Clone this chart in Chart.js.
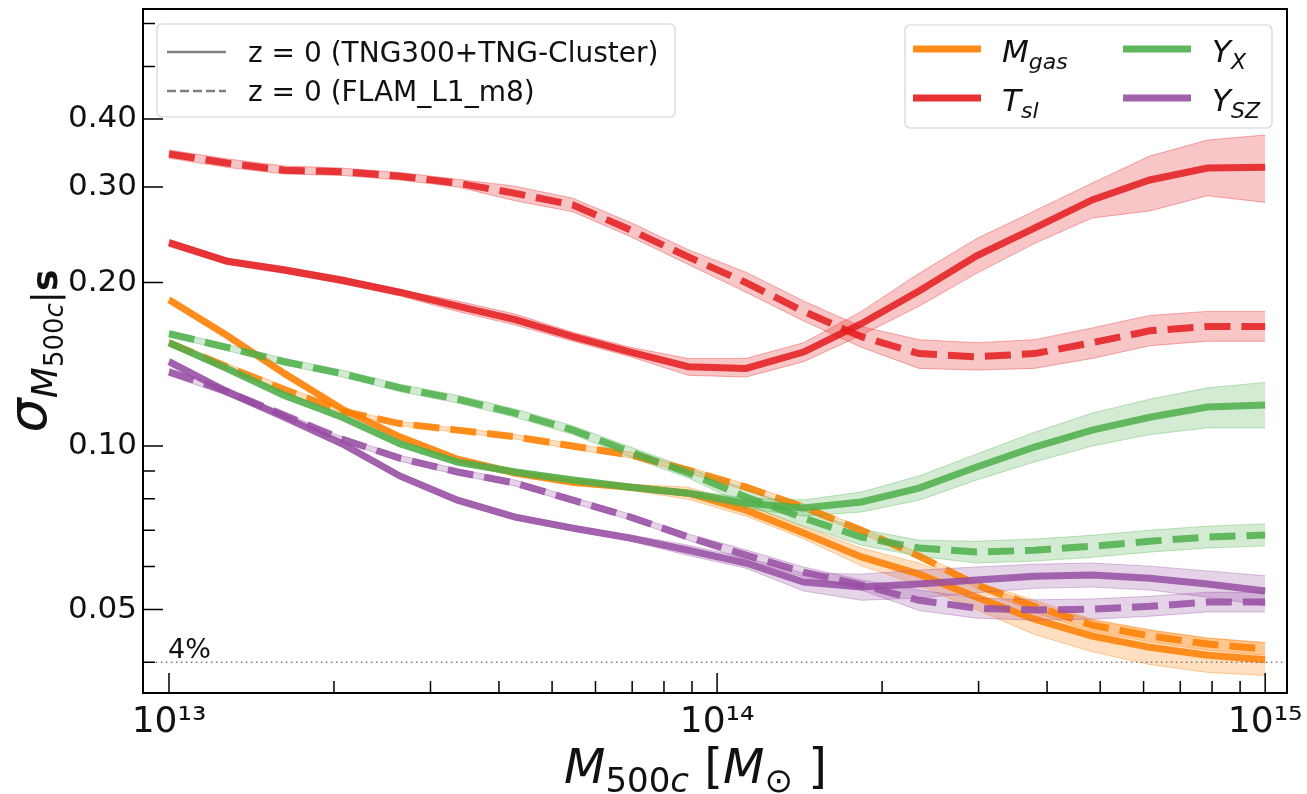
<!DOCTYPE html>
<html>
<head>
<meta charset="utf-8">
<script src="https://cdn.jsdelivr.net/npm/chart.js@4.4.1/dist/chart.umd.min.js"></script>
<style>
  html, body { margin: 0; padding: 0; background: #fff; }
  #wrap { width: 1307px; height: 794px; }
</style>
</head>
<body>
<div id="wrap"><canvas id="grafic" width="1307" height="794"></canvas></div>
<script>
// ---------------------------------------------------------
// Dades (llegides de la figura)
// ---------------------------------------------------------
const masses = [1.000e13, 1.274e13, 1.624e13, 2.069e13, 2.637e13, 3.360e13, 4.281e13, 5.456e13, 6.952e13, 8.859e13,
                1.129e14, 1.438e14, 1.833e14, 2.336e14, 2.976e14, 3.793e14, 4.833e14, 6.158e14, 7.848e14, 1.000e15];

// M_gas
const mgasTng   = [0.186, 0.160, 0.136, 0.117, 0.104, 0.0946, 0.0892, 0.0858, 0.0840, 0.0819, 0.0762, 0.0692, 0.0625, 0.0581, 0.0527, 0.0480, 0.0447, 0.0426, 0.0412, 0.0404];
const mgasTngLo = [0.184, 0.158, 0.134, 0.116, 0.103, 0.0934, 0.0881, 0.0847, 0.0829, 0.0798, 0.0743, 0.0675, 0.0602, 0.0554, 0.0499, 0.0450, 0.0418, 0.0396, 0.0383, 0.0378];
const mgasTngHi = [0.188, 0.162, 0.138, 0.118, 0.105, 0.0958, 0.0903, 0.0869, 0.0851, 0.0840, 0.0782, 0.0710, 0.0649, 0.0609, 0.0557, 0.0512, 0.0478, 0.0458, 0.0443, 0.0435];
const mgasFlam   = [0.155, 0.140, 0.127, 0.116, 0.110, 0.107, 0.104, 0.100, 0.0963, 0.0903, 0.0840, 0.0772, 0.0700, 0.0627, 0.0555, 0.0507, 0.0468, 0.0447, 0.0432, 0.0423];
const mgasFlamLo = [0.153, 0.138, 0.125, 0.115, 0.109, 0.106, 0.103, 0.0987, 0.0951, 0.0892, 0.0829, 0.0762, 0.0691, 0.0619, 0.0548, 0.0494, 0.0456, 0.0436, 0.0421, 0.0412];
const mgasFlamHi = [0.157, 0.142, 0.129, 0.117, 0.111, 0.108, 0.105, 0.101, 0.0975, 0.0915, 0.0851, 0.0782, 0.0709, 0.0635, 0.0562, 0.0520, 0.0480, 0.0459, 0.0443, 0.0434];

// T_sl
const tslTng   = [0.237, 0.219, 0.211, 0.202, 0.192, 0.181, 0.171, 0.159, 0.149, 0.140, 0.139, 0.149, 0.168, 0.193, 0.224, 0.252, 0.284, 0.309, 0.325, 0.326];
const tslTngLo = [0.233, 0.216, 0.208, 0.199, 0.189, 0.177, 0.167, 0.156, 0.146, 0.135, 0.134, 0.143, 0.160, 0.181, 0.208, 0.236, 0.263, 0.271, 0.289, 0.281];
const tslTngHi = [0.240, 0.222, 0.214, 0.205, 0.194, 0.185, 0.175, 0.162, 0.152, 0.145, 0.145, 0.155, 0.177, 0.208, 0.241, 0.271, 0.305, 0.342, 0.366, 0.374];
const tslFlam   = [0.345, 0.332, 0.322, 0.320, 0.314, 0.305, 0.292, 0.278, 0.250, 0.223, 0.200, 0.177, 0.159, 0.148, 0.146, 0.148, 0.155, 0.163, 0.166, 0.166];
const tslFlamLo = [0.339, 0.326, 0.317, 0.315, 0.309, 0.300, 0.283, 0.270, 0.243, 0.216, 0.192, 0.170, 0.152, 0.139, 0.138, 0.139, 0.145, 0.153, 0.156, 0.156];
const tslFlamHi = [0.351, 0.338, 0.328, 0.325, 0.319, 0.310, 0.301, 0.286, 0.258, 0.230, 0.209, 0.185, 0.166, 0.157, 0.155, 0.157, 0.165, 0.174, 0.177, 0.177];

// Y_X
const yxTng   = [0.155, 0.139, 0.124, 0.113, 0.101, 0.0934, 0.0896, 0.0866, 0.0840, 0.0819, 0.0785, 0.0769, 0.0789, 0.0837, 0.0915, 0.0996, 0.107, 0.113, 0.118, 0.119];
const yxTngLo = [0.153, 0.137, 0.122, 0.112, 0.0997, 0.0922, 0.0885, 0.0855, 0.0829, 0.0809, 0.0768, 0.0743, 0.0756, 0.0795, 0.0866, 0.0935, 0.100, 0.105, 0.108, 0.108];
const yxTngHi = [0.157, 0.141, 0.126, 0.114, 0.102, 0.0946, 0.0907, 0.0877, 0.0851, 0.0830, 0.0802, 0.0796, 0.0823, 0.0881, 0.0967, 0.106, 0.115, 0.122, 0.128, 0.131];
const yxFlam   = [0.161, 0.152, 0.143, 0.136, 0.128, 0.122, 0.115, 0.107, 0.0975, 0.0892, 0.0806, 0.0737, 0.0680, 0.0649, 0.0638, 0.0643, 0.0654, 0.0668, 0.0680, 0.0686];
const yxFlamLo = [0.159, 0.150, 0.141, 0.134, 0.126, 0.120, 0.113, 0.105, 0.0954, 0.0873, 0.0779, 0.0712, 0.0657, 0.0627, 0.0609, 0.0614, 0.0624, 0.0638, 0.0649, 0.0655];
const yxFlamHi = [0.163, 0.154, 0.145, 0.138, 0.130, 0.124, 0.117, 0.109, 0.0996, 0.0911, 0.0834, 0.0762, 0.0703, 0.0671, 0.0668, 0.0674, 0.0685, 0.0700, 0.0712, 0.0719];

// Y_SZ
const yszTng   = [0.143, 0.126, 0.113, 0.101, 0.0881, 0.0795, 0.0740, 0.0706, 0.0677, 0.0643, 0.0609, 0.0562, 0.0550, 0.0557, 0.0567, 0.0576, 0.0579, 0.0571, 0.0557, 0.0541];
const yszTngLo = [0.141, 0.124, 0.112, 0.0997, 0.0870, 0.0785, 0.0731, 0.0697, 0.0668, 0.0629, 0.0596, 0.0541, 0.0520, 0.0525, 0.0537, 0.0547, 0.0550, 0.0543, 0.0527, 0.0508];
const yszTngHi = [0.145, 0.128, 0.114, 0.102, 0.0892, 0.0805, 0.0749, 0.0715, 0.0686, 0.0657, 0.0622, 0.0584, 0.0581, 0.0591, 0.0599, 0.0606, 0.0609, 0.0601, 0.0589, 0.0577];
const yszFlam   = [0.137, 0.126, 0.114, 0.103, 0.0950, 0.0896, 0.0855, 0.0795, 0.0740, 0.0680, 0.0630, 0.0586, 0.0555, 0.0520, 0.0503, 0.0499, 0.0501, 0.0507, 0.0516, 0.0516];
const yszFlamLo = [0.135, 0.124, 0.113, 0.102, 0.0938, 0.0885, 0.0844, 0.0785, 0.0731, 0.0671, 0.0617, 0.0574, 0.0543, 0.0498, 0.0482, 0.0478, 0.0480, 0.0486, 0.0495, 0.0495];
const yszFlamHi = [0.139, 0.128, 0.115, 0.104, 0.0962, 0.0907, 0.0866, 0.0805, 0.0749, 0.0689, 0.0644, 0.0599, 0.0567, 0.0543, 0.0525, 0.0521, 0.0523, 0.0529, 0.0538, 0.0538];

// llindar del 4%
const llindar = 0.04;

// Eixos
const xTicks = [1e13, 1e14, 1e15];
const xTickLabels = ['10¹³', '10¹⁴', '10¹⁵'];
const xMinorTicks = [2e13, 3e13, 4e13, 5e13, 6e13, 7e13, 8e13, 9e13, 2e14, 3e14, 4e14, 5e14, 6e14, 7e14, 8e14, 9e14];
const yTicks = [0.05, 0.1, 0.2, 0.3, 0.4];
const yTickLabels = ['0.05', '0.10', '0.20', '0.30', '0.40'];
const yMinorTicks = [0.04, 0.06, 0.07, 0.08, 0.09, 0.5, 0.6];

// ---------------------------------------------------------
// Estils
// ---------------------------------------------------------
const COLORS = {
    mgas: [255, 127, 0],
    tsl:  [228, 26, 28],
    yx:   [77, 175, 74],
    ysz:  [152, 78, 163]
};
const rgba = (c, a) => `rgba(${c[0]}, ${c[1]}, ${c[2]}, ${a})`;
const FONT = "'DejaVu Sans', sans-serif";

const punts = arr => masses.map((m, i) => ({ x: m, y: arr[i] }));

let datasets = [];
function afegirCorba(mid, lo, hi, color, discontinua) {
    datasets.push({
        data: punts(hi), borderColor: rgba(color, 0.35), borderWidth: 1,
        backgroundColor: rgba(color, 0.25), fill: '+1', pointRadius: 0, tension: 0
    });
    datasets.push({
        data: punts(lo), borderColor: rgba(color, 0.35), borderWidth: 1,
        fill: false, pointRadius: 0, tension: 0
    });
    datasets.push({
        data: punts(mid), borderColor: rgba(color, 0.85), borderWidth: 7,
        borderDash: discontinua ? [26, 11] : [], fill: false, pointRadius: 0, tension: 0
    });
}

afegirCorba(mgasTng, mgasTngLo, mgasTngHi, COLORS.mgas, false);
afegirCorba(mgasFlam, mgasFlamLo, mgasFlamHi, COLORS.mgas, true);
afegirCorba(tslTng, tslTngLo, tslTngHi, COLORS.tsl, false);
afegirCorba(tslFlam, tslFlamLo, tslFlamHi, COLORS.tsl, true);
afegirCorba(yxTng, yxTngLo, yxTngHi, COLORS.yx, false);
afegirCorba(yxFlam, yxFlamLo, yxFlamHi, COLORS.yx, true);
afegirCorba(yszTng, yszTngLo, yszTngHi, COLORS.ysz, false);
afegirCorba(yszFlam, yszFlamLo, yszFlamHi, COLORS.ysz, true);

datasets.push({
    data: [{ x: 1e12, y: llindar }, { x: 1e16, y: llindar }],
    borderColor: '#777', borderWidth: 1.5, borderDash: [1.5, 3.5],
    fill: false, pointRadius: 0
});

// l'últim dataset es dibuixa a sobre
datasets.forEach((d, i) => d.order = -i);

// ---------------------------------------------------------
// Text amb subíndexs
// ---------------------------------------------------------
function textRic(ctx, x, y, parts) {
    let cx = x;
    parts.forEach(p => {
        ctx.font = p.f;
        ctx.fillText(p.t, cx, y + (p.dy || 0));
        cx += ctx.measureText(p.t).width;
    });
    return cx - x;
}
function ampleRic(ctx, parts) {
    let w = 0;
    parts.forEach(p => { ctx.font = p.f; w += ctx.measureText(p.t).width; });
    return w;
}
function caixa(ctx, x, y, w, h, r) {
    ctx.beginPath();
    ctx.moveTo(x + r, y);
    ctx.arcTo(x + w, y, x + w, y + h, r);
    ctx.arcTo(x + w, y + h, x, y + h, r);
    ctx.arcTo(x, y + h, x, y, r);
    ctx.arcTo(x, y, x + w, y, r);
    ctx.closePath();
    ctx.fillStyle = 'rgba(255, 255, 255, 0.85)';
    ctx.fill();
    ctx.strokeStyle = '#d4d4d4';
    ctx.lineWidth = 1.2;
    ctx.stroke();
}

const decoracio = {
    id: 'decoracio',
    afterDraw(chart) {
        const { ctx, chartArea: a, scales: { x, y } } = chart;
        ctx.save();

        // ticks cap a dins
        ctx.strokeStyle = '#000';
        ctx.lineWidth = 1.5;
        ctx.beginPath();
        xTicks.forEach(v => { const p = x.getPixelForValue(v); ctx.moveTo(p, a.bottom); ctx.lineTo(p, a.bottom - 20); });
        xMinorTicks.forEach(v => { const p = x.getPixelForValue(v); ctx.moveTo(p, a.bottom); ctx.lineTo(p, a.bottom - 12); });
        yTicks.forEach(v => { const p = y.getPixelForValue(v); ctx.moveTo(a.left, p); ctx.lineTo(a.left + 20, p); });
        yMinorTicks.forEach(v => { const p = y.getPixelForValue(v); ctx.moveTo(a.left, p); ctx.lineTo(a.left + 12, p); });
        ctx.stroke();

        // marc
        ctx.lineWidth = 2;
        ctx.strokeRect(a.left, a.top, a.right - a.left, a.bottom - a.top);

        ctx.fillStyle = '#111';
        ctx.textBaseline = 'alphabetic';
        ctx.textAlign = 'left';

        // etiqueta 4%
        ctx.font = `27px ${FONT}`;
        ctx.fillText('4%', 168, y.getPixelForValue(llindar) - 4);

        // títol eix x
        const titolX = [
            { t: 'M', f: `italic 48px ${FONT}` },
            { t: '500', f: `34px ${FONT}`, dy: 9 },
            { t: 'c', f: `italic 34px ${FONT}`, dy: 9 },
            { t: ' [', f: `48px ${FONT}` },
            { t: 'M', f: `italic 48px ${FONT}` },
            { t: '⊙', f: `34px ${FONT}`, dy: 9 },
            { t: ' ]', f: `48px ${FONT}` }
        ];
        textRic(ctx, 564, 783, titolX);

        // títol eix y (girat)
        const titolY = [
            { t: 'σ', f: `italic 54px ${FONT}` },
            { t: 'M', f: `italic 36px ${FONT}`, dy: 11 },
            { t: '500', f: `26px ${FONT}`, dy: 17 },
            { t: 'c', f: `italic 26px ${FONT}`, dy: 17 },
            { t: '|', f: `36px ${FONT}`, dy: 11 },
            { t: 's', f: `bold 36px ${FONT}`, dy: 11 }
        ];
        const wy = ampleRic(ctx, titolY);
        ctx.save();
        ctx.translate(46, (a.top + a.bottom) / 2 + wy / 2);
        ctx.rotate(-Math.PI / 2);
        textRic(ctx, 0, 0, titolY);
        ctx.restore();

        // llegenda esquerra (estil de línia)
        caixa(ctx, 157, 24, 518, 93, 5);
        ctx.strokeStyle = '#808080';
        ctx.lineWidth = 2.5;
        ctx.setLineDash([]);
        ctx.beginPath(); ctx.moveTo(167, 52); ctx.lineTo(226, 52); ctx.stroke();
        ctx.setLineDash([9, 4]);
        ctx.beginPath(); ctx.moveTo(167, 91); ctx.lineTo(226, 91); ctx.stroke();
        ctx.setLineDash([]);
        ctx.fillStyle = '#111';
        ctx.font = `28px ${FONT}`;
        ctx.fillText('z = 0 (TNG300+TNG-Cluster)', 248, 62);
        ctx.fillText('z = 0 (FLAM_L1_m8)', 248, 101);

        // llegenda dreta (observables)
        caixa(ctx, 905, 25, 367, 103, 5);
        const entrades = [
            { c: COLORS.mgas, x: 913, y: 49, txt: [{ t: 'M', f: `italic 31px ${FONT}` }, { t: 'gas', f: `italic 22px ${FONT}`, dy: 7 }] },
            { c: COLORS.tsl,  x: 913, y: 98, txt: [{ t: 'T', f: `italic 31px ${FONT}` }, { t: 'sl', f: `italic 22px ${FONT}`, dy: 7 }] },
            { c: COLORS.yx,   x: 1123, y: 49, txt: [{ t: 'Y', f: `italic 31px ${FONT}` }, { t: 'X', f: `italic 22px ${FONT}`, dy: 7 }] },
            { c: COLORS.ysz,  x: 1123, y: 98, txt: [{ t: 'Y', f: `italic 31px ${FONT}` }, { t: 'SZ', f: `italic 22px ${FONT}`, dy: 7 }] }
        ];
        ctx.lineWidth = 7;
        entrades.forEach(e => {
            ctx.strokeStyle = rgba(e.c, 0.9);
            ctx.beginPath(); ctx.moveTo(e.x, e.y); ctx.lineTo(e.x + 68, e.y); ctx.stroke();
            ctx.fillStyle = '#111';
            textRic(ctx, e.x + 89, e.y + 13, e.txt);
        });

        ctx.restore();
    }
};

// ---------------------------------------------------------
// Gràfic
// ---------------------------------------------------------
new Chart(document.getElementById('grafic').getContext('2d'), {
    type: 'line',
    data: { datasets },
    options: {
        responsive: false,
        animation: false,
        devicePixelRatio: 1,
        layout: { padding: { top: 9, right: 20, left: 0, bottom: 0 } },
        plugins: {
            legend: { display: false },
            tooltip: { enabled: false },
            filler: { drawTime: 'beforeDatasetsDraw' }
        },
        scales: {
            x: {
                type: 'logarithmic',
                min: 8.966e12,
                max: 1.096e15,
                afterBuildTicks: ax => { ax.ticks = xTicks.map(v => ({ value: v })); },
                afterFit: ax => { ax.height = 101; ax.paddingLeft = 0; ax.paddingRight = 0; },
                grid: { display: false, drawTicks: false },
                border: { display: false },
                ticks: {
                    autoSkip: false, maxRotation: 0, padding: 8, color: '#111',
                    font: { family: FONT, size: 36 },
                    callback: (v, i) => xTickLabels[i]
                }
            },
            y: {
                type: 'logarithmic',
                min: 0.0351,
                max: 0.638,
                afterBuildTicks: ax => { ax.ticks = yTicks.map(v => ({ value: v })); },
                afterFit: ax => { ax.width = 143; ax.paddingTop = 0; ax.paddingBottom = 0; },
                grid: { display: false, drawTicks: false },
                border: { display: false },
                ticks: {
                    autoSkip: false, padding: 6, color: '#111',
                    font: { family: FONT, size: 31 },
                    callback: (v, i) => yTickLabels[i]
                }
            }
        }
    },
    plugins: [decoracio]
});
</script>
</body>
</html>
